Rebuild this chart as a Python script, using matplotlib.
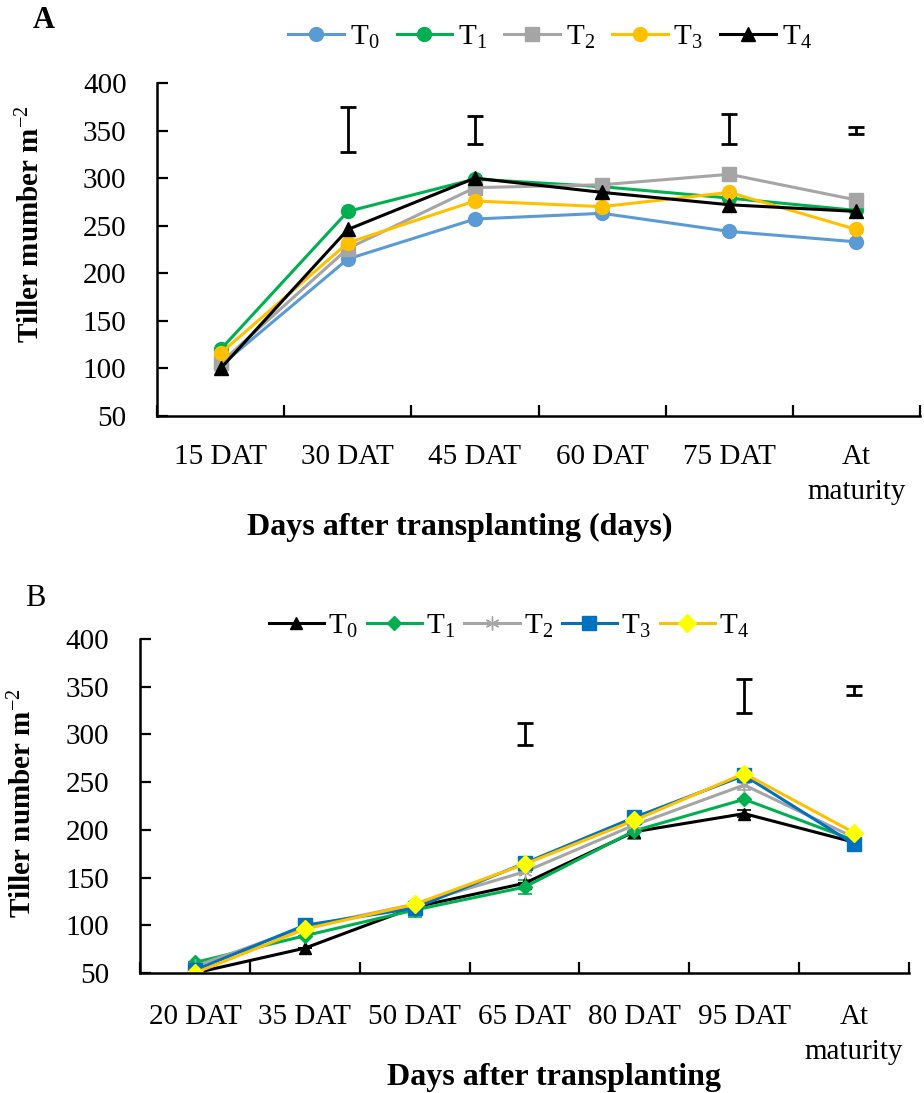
import matplotlib
matplotlib.use("Agg")
import matplotlib.pyplot as plt
from matplotlib.ticker import FixedLocator, NullFormatter

plt.rcParams.update({
    "font.family": "serif",
    "font.serif": ["Liberation Serif", "DejaVu Serif"],
    "mathtext.fontset": "custom",
    "mathtext.rm": "Liberation Serif",
    "mathtext.it": "Liberation Serif:italic",
    "mathtext.bf": "Liberation Serif:bold",
})

# ---------------------------------------------------------------- data ----
# panel A
cats_a = ["15 DAT", "30 DAT", "45 DAT", "60 DAT", "75 DAT", "At\nmaturity"]
a_t0 = [103, 215, 257, 263, 244, 233]
a_t1 = [120, 265, 299, 291, 279, 266]
a_t2 = [106, 226, 290, 293, 304, 277]
a_t3 = [116, 232, 276, 270, 285, 246]
a_t4 = [100, 246, 300, 285, 272, 265]
# floating LSD bars (centre, half length) in panel A
lsd_a_x = [1, 2, 4, 5]
lsd_a_mid = [351, 350.5, 351.5, 350]
lsd_a_half = [24, 14.5, 15.5, 4]

# panel B
cats_b = ["20 DAT", "35 DAT", "50 DAT", "65 DAT", "80 DAT", "95 DAT", "At\nmaturity"]
b_t0 = [50, 76, 119, 144, 198, 217, 187]
b_t1 = [61, 89, 116, 140, 199, 232, 189]
b_t2 = [57, 98, 122, 156, 205, 247, 192]
b_t3 = [53, 100, 118, 165, 213, 257, 185]
b_t4 = [50, 96, 122, 164, 210, 259, 197]
b_t0_err = [0, 0, 0, 0, 0, 4, 0]
b_t1_err = [0, 0, 7, 7, 9, 0, 0]
b_t2_err = [0, 0, 0, 0, 0, 5, 0]
lsd_b_x = [3, 5, 6]
lsd_b_mid = [300.5, 340, 346]
lsd_b_half = [11.5, 18, 5]

labels = ["T$_0$", "T$_1$", "T$_2$", "T$_3$", "T$_4$"]

TICK_FS = 21
LAB_FS = 23
LEG_FS = 21
fig = plt.figure(figsize=(9.24, 10.93), dpi=100)


def style_axes(ax, cats, xlabel, ylabel, xlab_pos, ylab_pos, xpad):
    n = len(cats)
    ax.set_xlim(-0.5, n - 0.5)
    ax.set_ylim(50, 400)
    ax.set_yticks(range(50, 401, 50))
    ax.spines["top"].set_visible(False)
    ax.spines["right"].set_visible(False)
    for s in ("left", "bottom"):
        ax.spines[s].set_linewidth(1.8)
    ax.set_xticks(range(n))
    ax.set_xticklabels(cats, fontsize=TICK_FS, va="top", linespacing=1.45)
    ax.xaxis.set_minor_locator(FixedLocator([i - 0.5 for i in range(n + 1)]))
    ax.xaxis.set_minor_formatter(NullFormatter())
    ax.tick_params(axis="x", which="major", length=0, pad=xpad)
    ax.tick_params(axis="x", which="minor", direction="in", length=8, width=1.6)
    ax.tick_params(axis="y", direction="in", length=8, width=1.6, pad=22,
                   labelsize=TICK_FS)
    ax.set_xlabel(xlabel, fontsize=LAB_FS, fontweight="bold")
    ax.set_ylabel(ylabel, fontsize=LAB_FS - 2, fontweight="bold")
    ax.xaxis.set_label_coords(*xlab_pos)
    ax.yaxis.set_label_coords(*ylab_pos)


# ------------------------------------------------------------ panel A ----
ax = fig.add_axes([0.170, 0.6194, 0.8257, 0.3047])
x = range(len(cats_a))
kw = dict(lw=2.2, ms=10)
ax.plot(x, a_t0, color="#5B9BD5", marker="o", label=labels[0], **kw)
ax.plot(x, a_t1, color="#00B050", marker="o", label=labels[1], **kw)
ax.plot(x, a_t2, color="#A5A5A5", marker="s", label=labels[2], **kw)
ax.plot(x, a_t3, color="#FFC000", marker="o", label=labels[3], **kw)
ax.plot(x, a_t4, color="black", marker="^", label=labels[4], **kw)
ax.errorbar(lsd_a_x, lsd_a_mid, yerr=lsd_a_half, fmt="none", ecolor="black",
            elinewidth=2, capsize=6, capthick=2)
style_axes(ax, cats_a, "Days after transplanting (days)",
           "Tiller mumber m$^{-2}$", (0.397, -0.29), (-0.147, 0.577), 20)
ax.legend(loc="center", bbox_to_anchor=(550 / 924, 1 - 37 / 1093),
          bbox_transform=fig.transFigure, ncol=5, frameon=False,
          fontsize=LEG_FS, handlelength=1.9, handletextpad=0.2,
          columnspacing=0.6, borderaxespad=0)
fig.text(33 / 924, 1 - 20 / 1093, "A", fontsize=22, fontweight="bold",
         ha="left", va="center")

# ------------------------------------------------------------ panel B ----
bx = fig.add_axes([0.1515, 0.1098, 0.8323, 0.3056])
x = range(len(cats_b))
eb = dict(fmt="none", capsize=5, elinewidth=1.2, capthick=1.2)
bx.errorbar(x, b_t0, yerr=b_t0_err, ecolor="black", **eb)
bx.errorbar(x, b_t1, yerr=b_t1_err, ecolor="#00B050", **eb)
bx.errorbar(x, b_t2, yerr=b_t2_err, ecolor="#A5A5A5", **eb)
h0, = bx.plot(x, b_t0, color="black", marker="^", ms=9, lw=2.2)
h1, = bx.plot(x, b_t1, color="#00B050", marker="D", ms=7, lw=2.2)
h2, = bx.plot(x, b_t2, color="#A5A5A5", marker=(6, 2, 0), ms=10, lw=2.2)
h3, = bx.plot(x, b_t3, color="#0070C0", marker="s", ms=10, lw=2.2)
h4, = bx.plot(x, b_t4, color="#FFC000", marker="D", ms=9, mfc="#FFFF00",
              mec="#FFFF00", lw=2.2)
bx.errorbar(lsd_b_x, lsd_b_mid, yerr=lsd_b_half, fmt="none", ecolor="black",
            elinewidth=2, capsize=6, capthick=2)
style_axes(bx, cats_b, "Days after transplanting", "Tiller number m$^{-2}$",
           (0.538, -0.268), (-0.134, 0.509), 22)
bx.legend([h0, h1, h2, h3, h4], labels, loc="center",
          bbox_to_anchor=(509 / 924, 1 - 626 / 1093),
          bbox_transform=fig.transFigure, ncol=5, frameon=False,
          fontsize=LEG_FS, handlelength=1.9, handletextpad=0.15,
          columnspacing=0.3, borderaxespad=0)
fig.text(25 / 924, 1 - 598 / 1093, "B", fontsize=22,
         ha="left", va="center")

fig.savefig("out.png", dpi=100, facecolor="white")
